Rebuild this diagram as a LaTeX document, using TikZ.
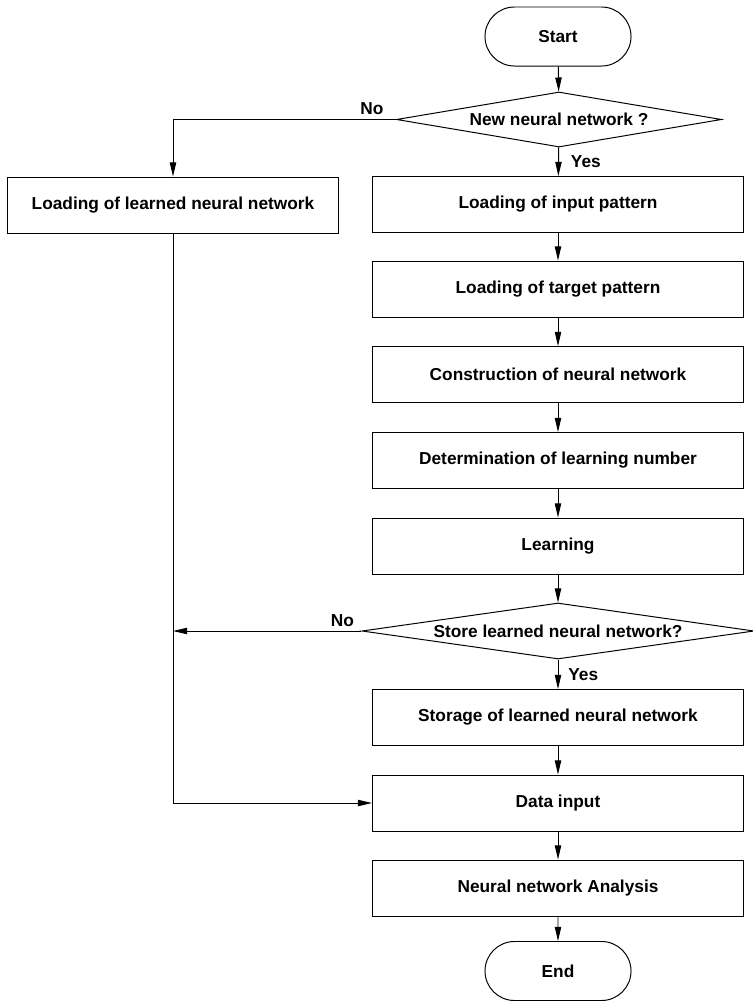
\documentclass[tikz,border=0pt]{standalone}
\usepackage{fontspec}
\setmainfont{Liberation Sans}
\usetikzlibrary{arrows.meta,positioning,shapes.geometric,shapes.misc}

\begin{document}
\begin{tikzpicture}[x=0.025cm, y=-0.025cm, line width=0.7pt,
    every node/.style={font=\bfseries\fontsize{12.3}{14}\selectfont},
    procbox/.style={draw, minimum width=9.275cm, minimum height=1.4cm, inner sep=0pt},
    decision/.style={draw, diamond, inner sep=0pt},
    terminal/.style={draw, rounded rectangle, minimum width=3.65cm, minimum height=1.475cm, inner sep=0pt},
    flow/.style={-{Triangle[length=10pt,width=4.5pt]}},
    tag/.style={inner sep=3pt}]
    \useasboundingbox (0,0) rectangle (753,1001);
    % main column
    \node[terminal] (start) at (558,36.5) {Start};
    \node[decision, aspect=5.9, minimum width=8.125cm, minimum height=1.375cm] (newnet) at (559,119.5) {New neural network ?};
    \node[procbox, minimum width=8.25cm] (loadnet) at (173,205) {Loading of learned neural network};
    \foreach \n/\y/\t in {
      input/204.5/{Loading of input pattern},
      target/289/{Loading of target pattern},
      build/374.5/{Construction of neural network},
      epochs/460.5/{Determination of learning number},
      learn/546/{Learning}}{
      \node[procbox] (\n) at (558,\y) {\t};
    }
    \node[decision, aspect=7, minimum width=9.8cm, minimum height=1.4cm] (storeq) at (558,631) {Store learned neural network?};
    \foreach \n/\y/\t in {
      store/717.5/{Storage of learned neural network},
      data/803/{Data input},
      analysis/888/{Neural network Analysis}}{
      \node[procbox] (\n) at (558,\y) {\t};
    }
    \node[terminal] (stop) at (558,971) {End};
    % connectors
    \foreach \a/\b in {start/newnet, input/target, target/build, build/epochs, epochs/learn,
      learn/storeq, store/data, data/analysis, analysis/stop}{
      \draw[flow] (\a) -- (\b);
    }
    \draw[flow] (newnet) -- node[tag, right=5.5pt] (yes1) {Yes} (input);
    \draw[flow] (storeq) -- node[tag, right=4pt] (yes2) {Yes} (store);
    \draw[flow] (newnet.west) node[tag, anchor=south east, xshift=-5.5pt] (no1) {No} -| (loadnet.north);
    \coordinate (join) at (loadnet.south |- storeq.west);
    \draw[flow] (storeq.west) node[tag, anchor=south east, xshift=-2pt] (no2) {No} -- (join);
    \draw[flow] (loadnet.south) |- (data.west);
\end{tikzpicture}
\end{document}
